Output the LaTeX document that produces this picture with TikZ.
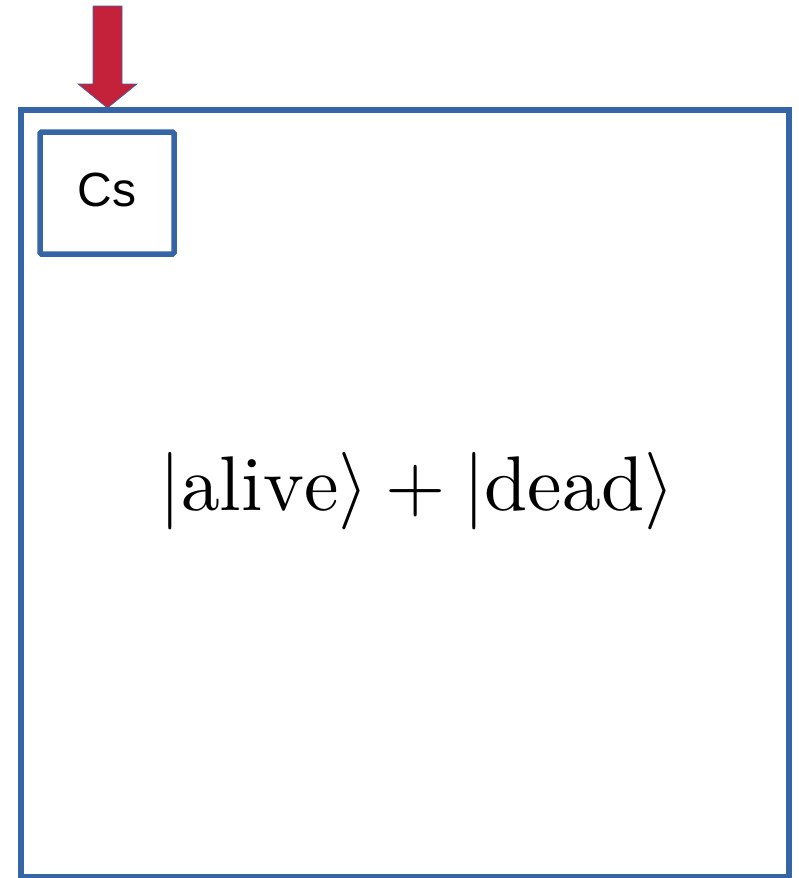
\documentclass[tikz,border=0pt]{standalone}
\usepackage{amsmath}
\usepackage{fontspec}
\usepackage{tikz}
\usetikzlibrary{positioning}
\newfontfamily\arialfont{Liberation Sans}
\definecolor{boxblue}{RGB}{54,101,166}
\definecolor{arrowred}{RGB}{196,33,58}

\begin{document}
\begin{tikzpicture}[x=1pt, y=-1pt,
    frame/.style={draw=boxblue, line width=6pt},
    labelbox/.style={draw=boxblue, line width=5.5pt, rounded corners=1.5pt, minimum width=134pt, minimum height=122pt, text depth=7pt, font=\arialfont\fontsize{48}{54}\selectfont},
    state/.style={scale=7.75, anchor=base}]
    \useasboundingbox (0,0) rectangle (799,878);
    % Boite
    \draw[frame] (21,110) rectangle (789,877);
    \node[labelbox] (cs) at (107,193) {Cs};
    % Etat
    \node[state] (cat) at (417,510) {$|\mathrm{alive}\rangle + |\mathrm{dead}\rangle$};
    % Fleche
    \coordinate (tip) at (107.5,108);
    \filldraw[fill=arrowred, draw=boxblue, line width=0.6pt]
      (93,6) -- (122,6) -- (122,84) -- (137,84) -- (tip) -- (78,84) -- (93,84) -- cycle;
\end{tikzpicture}
\end{document}
